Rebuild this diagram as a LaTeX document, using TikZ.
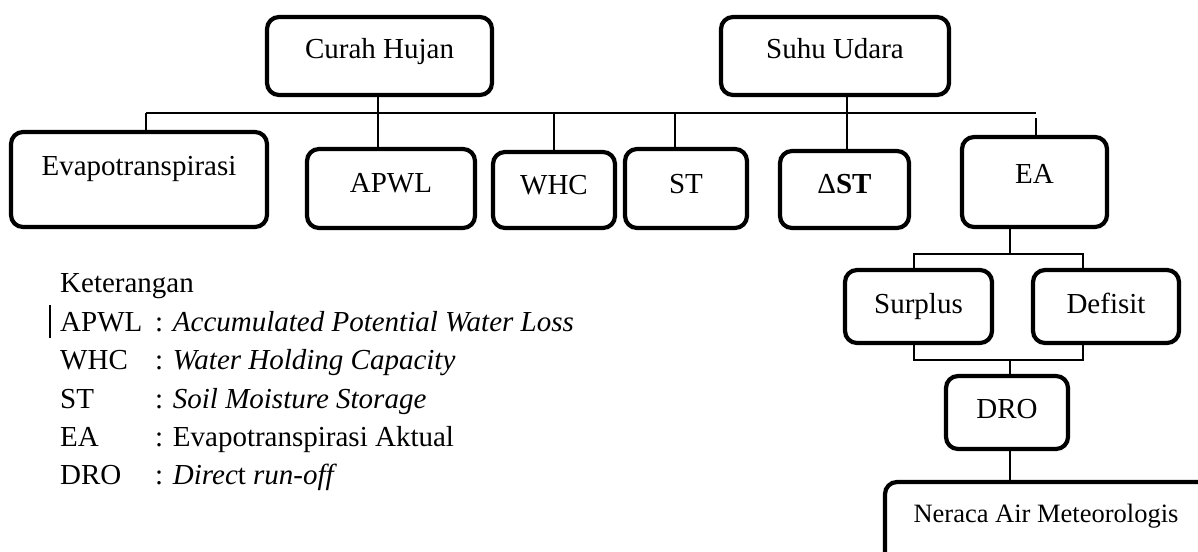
\documentclass[tikz,border=0pt]{standalone}
\usepackage{fontspec}
\setmainfont{Liberation Serif}
\newcommand\bigf{\fontsize{29}{35}\selectfont}
\newcommand\smf{\fontsize{26.5}{32}\selectfont}
\begin{document}
\begin{tikzpicture}[x=1pt,y=-1pt,
  box/.style={draw, line width=4.2pt, rounded corners=12pt, inner sep=0pt,
    font=\bigf, text height=20pt, align=center},
  conn/.style={draw, line width=1.3pt},
  legtext/.style={anchor=base west, inner sep=0pt, font=\bigf}]
\clip (0,0) rectangle (1198,551);
\fill[white] (0,0) rectangle (1198,551);

% top row
\node[box, minimum width=225pt, minimum height=78pt, text depth=14pt] (curah) at (379.5,56) {Curah Hujan};
\node[box, minimum width=228pt, minimum height=78pt, text depth=14pt] (suhu) at (835,56) {Suhu Udara};

% second row
\node[box, minimum width=256pt, minimum height=95pt, text depth=29pt] (evap) at (139,179.5) {Evapotranspirasi};
\node[box, minimum width=168pt, minimum height=79pt, text depth=13pt] (apwl) at (391,188.5) {APWL};
\node[box, minimum width=122pt, minimum height=76pt, text depth=12pt] (whc) at (554,190) {WHC};
\node[box, minimum width=122pt, minimum height=79pt, text depth=10pt] (st) at (686,188.5) {ST};
\node[box, minimum width=129pt, minimum height=77pt, text depth=12pt] (dst) at (844.5,189.5) {Δ\textbf{ST}};
\node[box, minimum width=145pt, minimum height=90pt, text depth=18pt] (ea) at (1034.5,182) {EA};

% lower column
\node[box, minimum width=147pt, minimum height=73pt, text depth=7pt] (surplus) at (918.5,306.5) {Surplus};
\node[box, minimum width=146pt, minimum height=73pt, text depth=7pt] (defisit) at (1106,306.5) {Defisit};
\node[box, minimum width=122pt, minimum height=73pt, text depth=9pt] (dro) at (1007,412.5) {DRO};
\node[box, minimum width=345pt, minimum height=83pt, text depth=23pt, font=\smf] (neraca) at (1057.5,523.5) {Neraca Air Meteorologis\hspace*{23pt}};

% bus connectors
\coordinate (busL) at (146,113);
\coordinate (busR) at (1036,113);
\draw[conn] (busL) -- (busR);
\draw[conn] (busL) -- (busL |- evap.north);
\draw[conn] ([xshift=-1.5pt]curah.south) -- ([xshift=-1.5pt]curah.south |- apwl.north);
\draw[conn] (whc.north |- busL) -- (whc.north);
\draw[conn] ([xshift=-11pt]st.north |- busL) -- ([xshift=-11pt]st.north);
\draw[conn] ([xshift=2.5pt]dst.north |- suhu.south) -- ([xshift=2.5pt]dst.north);
\draw[conn] ([yshift=-5pt]busR) -- (busR |- ea.north);

% lower connectors
\coordinate (b1) at (1010,254);
\coordinate (b2) at (1010,360);
\coordinate (sp) at ([xshift=-4.5pt]surplus.north);
\coordinate (df) at ([xshift=-23pt]defisit.north);
\draw[conn] (ea.south -| b1) -- (b1);
\draw[conn] (sp) -- (sp |- b1) -- (df |- b1) -- (df);
\draw[conn] (surplus.south -| sp) -- (sp |- b2) -- (df |- b2) -- (defisit.south -| df);
\draw[conn] (b2) -- (dro.north -| b2);
\draw[conn] (dro.south -| b2) -- (neraca.north -| b2);

% legend
\node[legtext] (ket) at (60,292) {Keterangan};
\node[legtext] (k1) at (60,331) {APWL};
\node[legtext] (d1) at (155,331) {: \textit{Accumulated Potential Water Loss}};
\node[legtext] (k2) at (60,369) {WHC};
\node[legtext] (d2) at (155,369) {: \textit{Water Holding Capacity}};
\node[legtext] (k3) at (60,408) {ST};
\node[legtext] (d3) at (155,408) {: \textit{Soil Moisture Storage}};
\node[legtext] (k4) at (60,446) {EA};
\node[legtext] (d4) at (155,446) {: Evapotranspirasi Aktual};
\node[legtext] (k5) at (60,484) {DRO};
\node[legtext] (d5) at (155,484) {: \textit{Direc}t \textit{run-off}};
\draw[line width=1.3pt] (50,305) -- (50,338);
\end{tikzpicture}
\end{document}
